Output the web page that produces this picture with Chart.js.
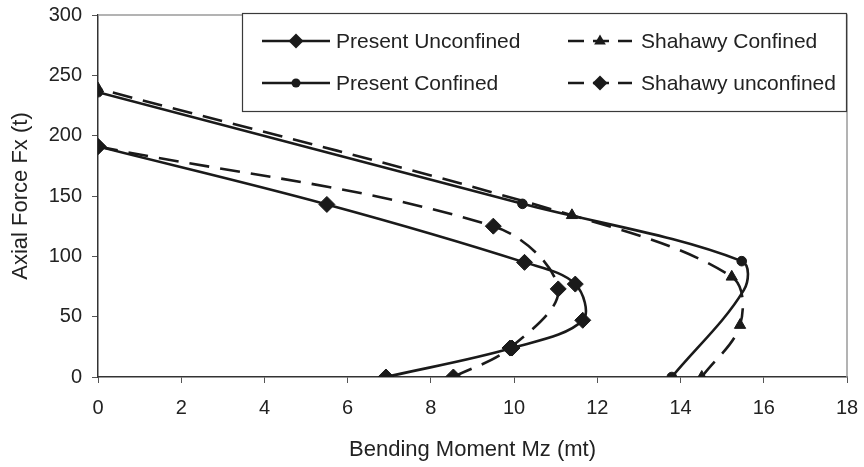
<!doctype html>
<html lang="en">
<head>
<meta charset="utf-8">
<title>Axial Force - Bending Moment</title>
<script src="https://cdn.jsdelivr.net/npm/chart.js@4.4.0/dist/chart.umd.min.js"></script>
<style>
  html, body { margin: 0; padding: 0; background: #fff; }
</style>
</head>
<body>
<canvas id="interaction" width="864" height="467"></canvas>

<script>
// Mz (mt) against Fx (t), listed from the bottom of each curve upwards
var presentUnconfinedMz = [6.92, 9.95, 11.65, 11.47, 10.25, 5.5, 0];
var presentUnconfinedFx = [0, 24, 47, 77, 95, 143, 191];

var shahawyConfinedMz = [14.51, 15.43, 15.23, 11.39, 0];
var shahawyConfinedFx = [0, 43, 83, 134, 239];

var presentConfinedMz = [13.79, 15.52, 15.47, 10.2, 0];
var presentConfinedFx = [0, 72, 96, 143.5, 236];
var presentConfinedMarks = [1, 0, 1, 1, 1];   // the bend at 72 t carries no marker

var shahawyUnconfinedMz = [8.54, 9.9, 11.06, 9.5, 0];
var shahawyUnconfinedFx = [0, 24, 73, 125, 191];

var xTicks = [0, 2, 4, 6, 8, 10, 12, 14, 16, 18];
var yTicks = [0, 50, 100, 150, 200, 250, 300];

var FONT = '"Liberation Sans", Arial, sans-serif';
var INK = '#1a1a1a';

function pairs(xs, ys) {
  var out = [];
  for (var i = 0; i < xs.length; i++) out.push({ x: xs[i], y: ys[i] });
  return out;
}

function series(label, xs, ys, style, radius, dashed) {
  return {
    label: label,
    data: pairs(xs, ys),
    showLine: true,
    tension: 0.35,
    borderColor: INK,
    backgroundColor: INK,
    borderWidth: 2.6,
    borderDash: dashed ? [20, 11] : [],
    pointStyle: style,
    pointRadius: radius,
    pointBorderWidth: 1,
    pointBackgroundColor: INK,
    pointBorderColor: INK
  };
}

var datasets = [
  series('Present Unconfined', presentUnconfinedMz, presentUnconfinedFx, 'rectRot', 8, false),
  series('Shahawy Confined', shahawyConfinedMz, shahawyConfinedFx, 'triangle', 6.5, true),
  series('Present Confined', presentConfinedMz, presentConfinedFx, 'circle',
         presentConfinedMarks.map(function (m) { return m ? 4.8 : 0; }), false),
  series('Shahawy unconfined', shahawyUnconfinedMz, shahawyUnconfinedFx, 'rectRot', 8, true)
];

// little marker painter for the legend samples
function marker(ctx, style, x, y, r) {
  ctx.beginPath();
  if (style === 'rectRot') {
    ctx.moveTo(x, y - r); ctx.lineTo(x + r, y); ctx.lineTo(x, y + r); ctx.lineTo(x - r, y);
  } else if (style === 'triangle') {
    ctx.moveTo(x, y - r); ctx.lineTo(x + r * 0.9, y + r * 0.55); ctx.lineTo(x - r * 0.9, y + r * 0.55);
  } else {
    ctx.arc(x, y, r, 0, Math.PI * 2);
  }
  ctx.closePath();
  ctx.fill();
}

// grey frame on the top and right side of the plot
var frame = {
  id: 'frame',
  beforeDatasetsDraw: function (chart) {
    var a = chart.chartArea, ctx = chart.ctx;
    ctx.save();
    ctx.strokeStyle = '#9a9a9a';
    ctx.lineWidth = 1.5;
    ctx.beginPath();
    ctx.moveTo(a.left, a.top);
    ctx.lineTo(a.right, a.top);
    ctx.lineTo(a.right, a.bottom);
    ctx.stroke();
    ctx.restore();
  }
};

// boxed two-column legend in the top right corner
var boxLegend = {
  id: 'boxLegend',
  afterDatasetsDraw: function (chart) {
    var ctx = chart.ctx;
    var box = { x: 242, y: 13, w: 604, h: 98 };
    var cols = [{ line: 262, end: 330, text: 336 }, { line: 568, end: 632, text: 641 }];
    var rows = [41, 83];
    ctx.save();
    ctx.fillStyle = '#fff';
    ctx.fillRect(box.x, box.y, box.w, box.h);
    ctx.strokeStyle = '#3a3a3a';
    ctx.lineWidth = 1.2;
    ctx.strokeRect(box.x + 0.5, box.y + 0.5, box.w, box.h);
    chart.data.datasets.forEach(function (ds, i) {
      var c = cols[i % 2], y = rows[Math.floor(i / 2)];
      ctx.strokeStyle = INK;
      ctx.fillStyle = INK;
      ctx.lineWidth = 2.6;
      ctx.setLineDash(ds.borderDash.length ? [16, 9] : []);
      ctx.beginPath();
      ctx.moveTo(c.line, y);
      ctx.lineTo(c.end, y);
      ctx.stroke();
      ctx.setLineDash([]);
      var r = ds.pointStyle === 'circle' ? 4.5 : (ds.pointStyle === 'triangle' ? 6.5 : 7.5);
      marker(ctx, ds.pointStyle, (c.line + c.end) / 2, y, r);
      ctx.font = '21px ' + FONT;
      ctx.fillStyle = '#222';
      ctx.textBaseline = 'middle';
      ctx.textAlign = 'left';
      ctx.fillText(ds.label, c.text, y + 1);
    });
    ctx.restore();
  }
};

// fixed axis boxes; the plot area is set by the layout padding alone
function noPad(s) {
  s.paddingTop = 0; s.paddingBottom = 0; s.paddingLeft = 0; s.paddingRight = 0;
}

new Chart(document.getElementById('interaction'), {
  type: 'scatter',
  data: { datasets: datasets },
  plugins: [frame, boxLegend],
  options: {
    responsive: false,
    animation: false,
    layout: { padding: { top: 15, right: 17, left: 0, bottom: 0 } },
    plugins: { legend: { display: false }, tooltip: { enabled: false } },
    scales: {
      x: {
        type: 'linear',
        min: 0, max: 18,
        afterBuildTicks: function (s) { s.ticks = xTicks.map(function (v) { return { value: v }; }); },
        afterFit: function (s) { s.height = 90; noPad(s); },
        grid: { drawOnChartArea: false, drawTicks: true, tickLength: 6, color: '#555', lineWidth: 1 },
        border: { color: '#333', width: 1.5 },
        ticks: { color: '#222', padding: 13, font: { family: FONT, size: 20 } },
        title: {
          display: true, text: 'Bending Moment Mz (mt)', color: '#222',
          font: { family: FONT, size: 22 }, padding: { top: 0, bottom: 4 }
        }
      },
      y: {
        type: 'linear',
        min: 0, max: 300,
        afterBuildTicks: function (s) { s.ticks = yTicks.map(function (v) { return { value: v }; }); },
        afterFit: function (s) { s.width = 98; noPad(s); },
        grid: { drawOnChartArea: false, drawTicks: true, tickLength: 6, color: '#555', lineWidth: 1 },
        border: { color: '#333', width: 1.5 },
        ticks: { color: '#222', padding: 10, font: { family: FONT, size: 20 } },
        title: {
          display: true, text: 'Axial Force Fx (t)', color: '#222',
          font: { family: FONT, size: 22 }, padding: { top: 8, bottom: 0 }
        }
      }
    }
  }
});
</script>
</body>
</html>
